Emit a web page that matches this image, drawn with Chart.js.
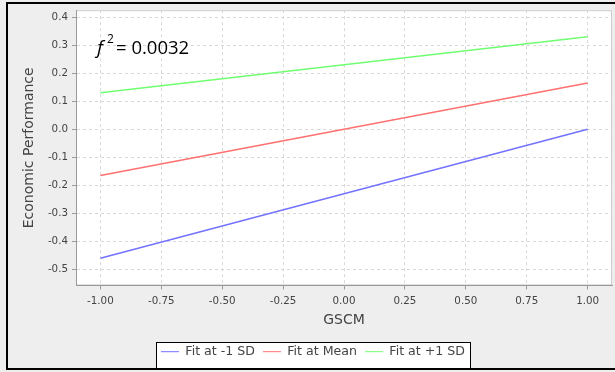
<!DOCTYPE html>
<html>
<head>
<meta charset="utf-8">
<script src="https://cdn.jsdelivr.net/npm/chart.js@4"></script>
<style>
  html,body{margin:0;padding:0;background:#eeeeee;}
  #wrap{width:615px;height:372px;position:relative;}
</style>
</head>
<body>
<div id="wrap"><canvas id="myChart" width="615" height="372"></canvas></div>
<script>
const gscm=[-1,1];
const fitLow=[-0.46,0.0];
const fitMean=[-0.165,0.165];
const fitHigh=[0.13,0.33];
const seriesNames=["Fit at -1 SD","Fit at Mean","Fit at +1 SD"];
const xTicks=[-1,-0.75,-0.5,-0.25,0,0.25,0.5,0.75,1];
const yTicks=[-0.5,-0.4,-0.3,-0.2,-0.1,0,0.1,0.2,0.3,0.4];
const effectLabel="0.0032";

function pts(ys){
  return gscm.map((x,i)=>({x:x,y:ys[i]}))
}

// page background, frame, legend box and f^2 note
const decor={
  id:"decor",
  beforeDraw(chart){
    const c=chart.ctx;
    c.save();
    c.fillStyle="#eeeeee";
    c.fillRect(0,0,chart.width,chart.height);
    const a=chart.chartArea;
    c.fillStyle="#ffffff";
    c.fillRect(a.left,a.top,a.right-a.left,a.bottom-a.top);
    c.strokeStyle="#cccccc";
    c.lineWidth=1;
    c.strokeRect(a.left+0.5,a.top+0.5,a.right-a.left-1,a.bottom-a.top-1);
    c.strokeStyle="#000";
    c.lineWidth=2;
    c.beginPath();
    c.moveTo(615,3);c.lineTo(7,3);c.lineTo(7,369);c.lineTo(615,369);
    c.stroke();
    const lg=chart.legend;
    if(lg && lg.legendHitBoxes.length){
      const first=lg.legendHitBoxes[0];
      const last=lg.legendHitBoxes[lg.legendHitBoxes.length-1];
      const x0=first.left-5, x1=last.left+last.width+5;
      c.fillStyle="#fff";
      c.fillRect(x0,342,x1-x0,26);
      c.lineWidth=1;
      c.strokeRect(x0+0.5,342.5,x1-x0,26);
    }
    c.restore();
  },
  afterDraw(chart){
    const c=chart.ctx;
    c.save();
    c.fillStyle="#000";
    c.textBaseline="alphabetic";
    c.font="italic 19px 'Open Sans'";
    c.fillText("f",97,54);
    c.font="12px 'Open Sans'";
    c.fillText("2",107,43);
    c.font="18.5px 'Open Sans'";
    c.fillText("= "+effectLabel,116,54);
    c.restore();
  }
};

let lineChart=new Chart("myChart",{
  type:"line",
  data:{
    datasets:[
      {label:seriesNames[0],data:pts(fitLow),borderColor:"#7272ff",backgroundColor:"#7272ff"},
      {label:seriesNames[1],data:pts(fitMean),borderColor:"#ff7070",backgroundColor:"#ff7070"},
      {label:seriesNames[2],data:pts(fitHigh),borderColor:"#70ff70",backgroundColor:"#70ff70"}
    ]
  },
  options:{
    responsive:false,
    animation:false,
    devicePixelRatio:1,
    layout:{padding:{left:14,top:10,right:3,bottom:4}},
    elements:{
      line:{borderWidth:1.5,tension:0},
      point:{radius:0,hoverRadius:0}
    },
    scales:{
      x:{
        type:"linear",
        min:-1.1,max:1.1,
        afterBuildTicks(s){s.ticks=xTicks.map(v=>({value:v}))},
        afterFit(s){s.height=52},
        border:{color:"#999999",width:1,dash:[3,3]},
        grid:{color:"#d8d8d8",tickColor:"#999999",tickLength:4,tickBorderDash:[]},
        ticks:{color:"#444",font:{family:"DejaVu Sans",size:10.3},padding:6,maxRotation:0,
          callback:v=>v.toFixed(2)},
        title:{display:true,text:"GSCM",color:"#444",font:{family:"DejaVu Sans",size:14},padding:{top:2,bottom:9}}
      },
      y:{
        min:-0.557,max:0.425,
        afterBuildTicks(s){s.ticks=yTicks.map(v=>({value:v}))},
        afterFit(s){s.width=62},
        border:{color:"#999999",width:1,dash:[3,3]},
        grid:{color:"#d8d8d8",tickColor:"#999999",tickLength:4,tickBorderDash:[]},
        ticks:{color:"#444",font:{family:"DejaVu Sans",size:10.3},padding:4,
          callback:v=>v.toFixed(1)},
        title:{display:true,text:"Economic Performance",color:"#444",font:{family:"DejaVu Sans",size:14},padding:{top:6.5,bottom:0}}
      }
    },
    plugins:{
      legend:{
        position:"bottom",
        labels:{usePointStyle:true,pointStyle:"line",pointStyleWidth:18,color:"#444",
          font:{family:"DejaVu Sans",size:12.6},padding:8}
      },
      tooltip:{enabled:false}
    }
  },
  plugins:[decor]
})
</script>
</body>
</html>
